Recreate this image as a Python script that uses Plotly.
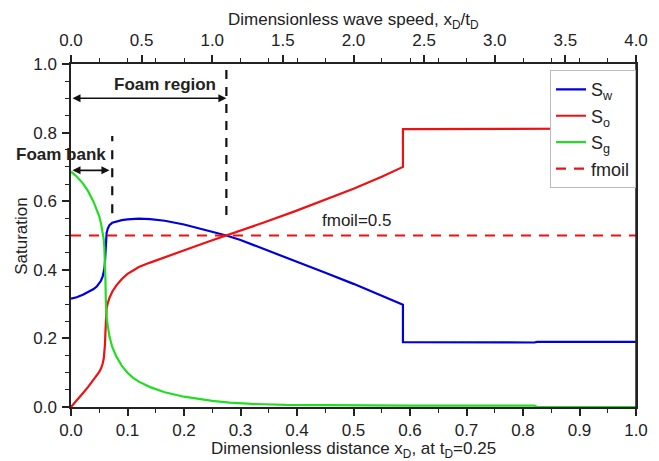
import plotly.graph_objects as go

# ---- data ----
sw_x = [0, 0.01, 0.021, 0.03, 0.04, 0.046, 0.05, 0.053, 0.056, 0.058, 0.059, 0.060, 0.061, 0.0615,
        0.062, 0.063, 0.065, 0.068, 0.073, 0.08, 0.09, 0.1, 0.11, 0.12, 0.14, 0.166, 0.2, 0.224,
        0.25, 0.275, 0.3, 0.34, 0.397, 0.449, 0.5, 0.55, 0.5875, 0.5875, 0.7, 0.82, 0.825, 1.0]
sw_y = [0.316, 0.32, 0.327, 0.334, 0.344, 0.352, 0.36, 0.368, 0.38, 0.392, 0.402, 0.42, 0.45, 0.47,
        0.49, 0.507, 0.52, 0.53, 0.537, 0.541, 0.545, 0.547, 0.548, 0.549, 0.548, 0.543, 0.532, 0.522,
        0.511, 0.5, 0.487, 0.462, 0.426, 0.392, 0.359, 0.324, 0.298, 0.189, 0.188, 0.188, 0.19, 0.19]

so_x = [0, 0.01, 0.021, 0.03, 0.04, 0.046, 0.05, 0.053, 0.056, 0.058, 0.059, 0.060, 0.061, 0.0615,
        0.062, 0.063, 0.065, 0.068, 0.073, 0.08, 0.09, 0.1, 0.11, 0.12, 0.14, 0.166, 0.2, 0.224,
        0.25, 0.275, 0.3, 0.34, 0.397, 0.449, 0.5, 0.55, 0.5875, 0.5875, 0.7, 0.82, 0.825, 1.0]
so_y = [0, 0.018, 0.04, 0.058, 0.08, 0.092, 0.102, 0.112, 0.126, 0.142, 0.156, 0.18, 0.22, 0.25,
        0.27, 0.288, 0.302, 0.318, 0.336, 0.354, 0.373, 0.388, 0.398, 0.408, 0.421, 0.437, 0.457, 0.471,
        0.486, 0.5, 0.514, 0.537, 0.571, 0.603, 0.636, 0.671, 0.70, 0.81, 0.81, 0.81, 0.812, 0.812]

sg_x = [0, 0.01, 0.021, 0.03, 0.04, 0.046, 0.05, 0.053, 0.056, 0.058, 0.059, 0.060, 0.061, 0.0615,
        0.062, 0.063, 0.065, 0.068, 0.073, 0.08, 0.09, 0.1, 0.11, 0.12, 0.14, 0.166, 0.2, 0.224,
        0.25, 0.281, 0.32, 0.38, 0.45, 0.6, 0.82, 0.825, 1.0]
sg_y = [0.686, 0.672, 0.652, 0.63, 0.598, 0.574, 0.556, 0.536, 0.51, 0.488, 0.466, 0.43, 0.37, 0.32,
        0.285, 0.262, 0.238, 0.206, 0.175, 0.148, 0.12, 0.1, 0.085, 0.074, 0.058, 0.043, 0.03, 0.024,
        0.018, 0.013, 0.009, 0.006, 0.005, 0.004, 0.004, 0.0, 0.0]

fmoil_x = [0, 1.0]
fmoil_y = [0.5, 0.5]

x_ticks_bottom = [round(i * 0.1, 1) for i in range(11)]
x_ticks_top = [round(i * 0.5, 1) for i in range(9)]
y_ticks = [round(i * 0.2, 1) for i in range(6)]

foam_bank_x = 0.073
foam_region_x = 0.275

FONT = "Liberation Sans, Arial, sans-serif"

fig = go.Figure()
fig.add_trace(go.Scatter(x=sw_x, y=sw_y, mode="lines", name="S<sub>w</sub>",
                         line=dict(color="#0000dd", width=2.2)))
fig.add_trace(go.Scatter(x=so_x, y=so_y, mode="lines", name="S<sub>o</sub>",
                         line=dict(color="#ee1111", width=2.2)))
fig.add_trace(go.Scatter(x=sg_x, y=sg_y, mode="lines", name="S<sub>g</sub>",
                         line=dict(color="#22dd22", width=2.2)))
fig.add_trace(go.Scatter(x=fmoil_x, y=fmoil_y, mode="lines", name="fmoil",
                         line=dict(color="#ee1111", width=2.2, dash="10px,8px")))
# invisible trace to anchor top axis
fig.add_trace(go.Scatter(x=[0, 4], y=[0, 0], xaxis="x2", mode="lines",
                         line=dict(width=0), showlegend=False, hoverinfo="skip"))

axis_common = dict(showline=True, linecolor="#222", linewidth=1.5, ticks="outside",
                   tickcolor="#222", tickwidth=1.5, ticklen=7, showgrid=False, zeroline=False,
                   tickfont=dict(size=17, color="#222", family=FONT),
                   minor=dict(ticks="outside", ticklen=4, tickcolor="#222", tickwidth=1.2))

fig.update_layout(
    width=659, height=461,
    margin=dict(l=71, r=11, t=64, b=54),
    paper_bgcolor="white", plot_bgcolor="white",
    font=dict(family=FONT, color="#222", size=17),
    xaxis=dict(range=[0, 1.0], tickvals=x_ticks_bottom, ticktext=[f"{v:.1f}" for v in x_ticks_bottom],
               mirror=False, ticklabelstandoff=0, **axis_common),
    xaxis2=dict(range=[0, 4.0], overlaying="x", side="top", anchor="y",
                tickvals=x_ticks_top, ticktext=[f"{v:.1f}" for v in x_ticks_top],
                ticklabelstandoff=2, **axis_common),
    yaxis=dict(range=[0, 1.0], tickvals=y_ticks, ticktext=[f"{v:.1f}" for v in y_ticks],
               mirror=True, ticklabelstandoff=2, **axis_common),
    legend=dict(x=1.0, y=0.982, xanchor="right", yanchor="top",
                bgcolor="white", bordercolor="#bbb", borderwidth=1,
                font=dict(size=18, family=FONT), tracegroupgap=0, itemwidth=30),
    showlegend=True,
)

# axis titles (placed as paper annotations)
fig.add_annotation(x=0.5, y=-0.124, xref="paper", yref="paper", yanchor="middle",
                   text="Dimensionless distance x<sub>D</sub>, at t<sub>D</sub>=0.25",
                   showarrow=False, font=dict(size=17, color="#222"))
fig.add_annotation(x=0.5, y=1.124, xref="paper", yref="paper", yanchor="middle",
                   text="Dimensionless wave speed, x<sub>D</sub>/t<sub>D</sub>",
                   showarrow=False, font=dict(size=17, color="#222"))
fig.add_annotation(x=-0.088, y=0.5, xref="paper", yref="paper", xanchor="center", yanchor="middle",
                   text="Saturation", textangle=-90,
                   showarrow=False, font=dict(size=17, color="#222"))

# right spine (no ticks)
fig.add_shape(type="line", xref="paper", yref="paper", x0=1, x1=1, y0=0, y1=1,
              line=dict(color="#222", width=1.5))

# dashed vertical markers
fig.add_shape(type="line", xref="x", yref="y", x0=foam_region_x, x1=foam_region_x, y0=0.56, y1=1.0,
              line=dict(color="#111", width=2.2, dash="9px,8px"))
fig.add_shape(type="line", xref="x", yref="y", x0=foam_bank_x, x1=foam_bank_x, y0=0.565, y1=0.79,
              line=dict(color="#111", width=2.2, dash="9px,9px"))

# double-headed arrows
fig.add_annotation(x=foam_region_x, y=0.90, ax=0, ay=0.90, xref="x", yref="y", axref="x", ayref="y",
                   text="", showarrow=True, arrowhead=2, arrowside="end+start", arrowsize=1,
                   arrowwidth=1.6, arrowcolor="#111")
fig.add_annotation(x=0.068, y=0.69, ax=0, ay=0.69, xref="x", yref="y", axref="x", ayref="y",
                   text="", showarrow=True, arrowhead=2, arrowside="end+start", arrowsize=1,
                   arrowwidth=1.6, arrowcolor="#111")

fig.add_annotation(x=0.166, y=0.94, xref="x", yref="y", text="<b>Foam region</b>",
                   showarrow=False, font=dict(size=17, color="#222"), xanchor="center")
fig.add_annotation(x=0.066, y=0.737, xref="paper", yref="y", text="<b>Foam bank</b>",
                   showarrow=False, font=dict(size=17, color="#222"), xanchor="right")
fig.add_annotation(x=0.506, y=0.545, xref="x", yref="y", text="fmoil=0.5",
                   showarrow=False, font=dict(size=17, color="#222"), xanchor="center")

fig.write_html("out.html")
